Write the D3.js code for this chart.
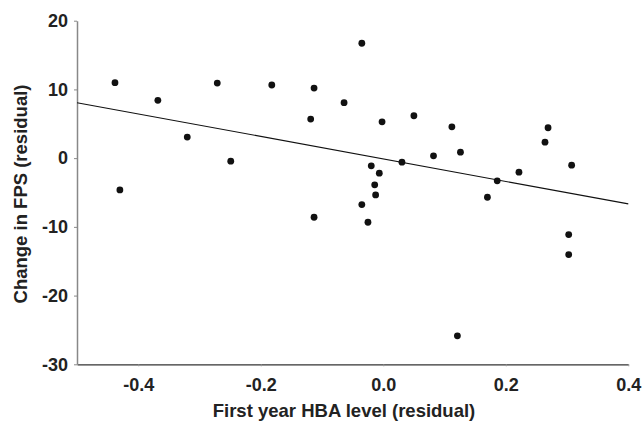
<!DOCTYPE html>
<html><head><meta charset="utf-8">
<script src="https://cdn.jsdelivr.net/npm/d3@7"></script>
<style>body{margin:0;background:#fff}svg{display:block}</style>
</head><body>
<script>
const xs = [-0.438,-0.430,-0.368,-0.320,-0.271,-0.249,-0.182,-0.113,-0.1185,-0.113,-0.064,-0.035,-0.002,0.050,0.112,0.126,0.082,-0.0196,-0.0065,-0.014,-0.0125,0.0305,0.186,0.2215,0.170,0.269,0.264,0.3075,-0.035,-0.025,0.3027,0.3027,0.121];
const ys = [10.98,-4.62,8.41,3.06,10.93,-0.44,10.64,10.2,5.69,-8.6,8.07,16.72,5.29,6.17,4.56,0.87,0.34,-1.12,-2.19,-3.89,-5.35,-0.58,-3.3,-2.04,-5.69,4.42,2.33,-1.02,-6.75,-9.33,-11.12,-14.04,-25.85];
const fitX = [-0.5, 0.4];
const fitY = [8.07, -6.66];
const xTicks = [-0.4,-0.2,0.0,0.2,0.4];
const yTicks = [-30,-20,-10,0,10,20];

const W=644,H=423;
const svg=d3.select("body").append("svg").attr("width",W).attr("height",H);
const x=d3.scaleLinear().domain([-0.5,0.4]).range([77,628.3]);
const y=d3.scaleLinear().domain([-30,20]).range([364.3,20.7]);
const font="'Liberation Sans', Arial, sans-serif";
const hy = f => d => f(d).replace("\u2212","-");

const xa=svg.append("g").attr("transform","translate(0,364.3)")
  .call(d3.axisBottom(x).tickValues(xTicks).tickFormat(hy(d3.format(".1f"))).tickSize(2).tickSizeOuter(0).tickPadding(12));
xa.select(".domain").attr("stroke","#333").attr("stroke-width",1.3);
xa.selectAll(".tick line").attr("stroke","#999");
xa.selectAll("text").attr("font-family",font).attr("font-weight","bold").attr("font-size",18).attr("fill","#222");

const ya=svg.append("g").attr("transform","translate(77,0)")
  .call(d3.axisLeft(y).tickValues(yTicks).tickFormat(hy(d3.format("d"))).tickSize(3).tickSizeOuter(0).tickPadding(6));
ya.select(".domain").attr("stroke","#888").attr("stroke-width",1.5);
ya.selectAll(".tick line").attr("stroke","#888");
ya.selectAll("text").attr("font-family",font).attr("font-weight","bold").attr("font-size",18).attr("fill","#222");

svg.append("line")
  .attr("x1",x(fitX[0])).attr("y1",y(fitY[0])).attr("x2",x(fitX[1])).attr("y2",y(fitY[1]))
  .attr("stroke","#111").attr("stroke-width",1.1);

svg.append("g").selectAll("circle").data(xs.map((v,i)=>[v,ys[i]])).join("circle")
  .attr("cx",d=>x(d[0])).attr("cy",d=>y(d[1])).attr("r",3.4).attr("fill","#111");

svg.append("text").attr("x",344).attr("y",417).attr("text-anchor","middle")
  .attr("font-family",font).attr("font-weight","bold").attr("font-size",18.5).attr("fill","#222")
  .text("First year HBA level (residual)");
svg.append("text").attr("transform","translate(27,194) rotate(-90)").attr("text-anchor","middle")
  .attr("font-family",font).attr("font-weight","bold").attr("font-size",18.5).attr("fill","#222")
  .text("Change in FPS (residual)");
</script>
</body></html>
